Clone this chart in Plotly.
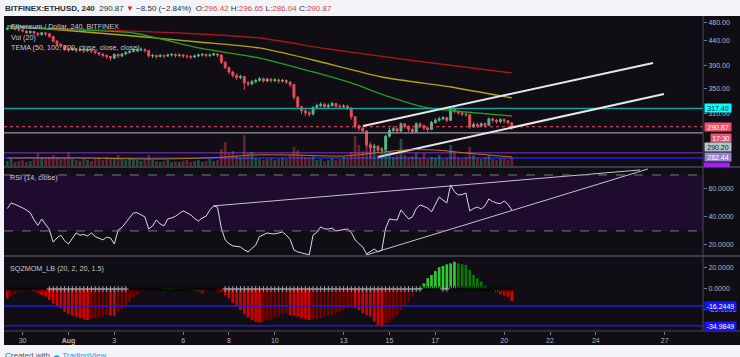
import numpy as np
import pandas as pd
import plotly.graph_objects as go

# ---------------- data ----------------
bar_start = "2018-07-29 08:00"
bar_count = 133
first_open = 463.0

close = [466, 468, 464, 462,
         460, 456, 459, 455, 452, 456,
         454, 448, 438, 432, 428, 422,
         420, 423, 419, 421, 418, 420,
         418, 415, 412, 409, 407, 404,
         411, 408, 412, 415, 417, 419,
         420, 421, 419, 408, 409, 407,
         409, 408, 410, 411, 409, 410,
         408, 407, 406, 408, 410, 411,
         409, 410, 412, 410, 396, 386,
         378, 372, 368, 370, 359, 357,
         361, 363, 366, 362, 365, 363,
         364, 362, 363, 360, 356, 335,
         320, 314, 311, 309, 319, 322,
         324, 320, 322, 325, 321, 320,
         321, 318, 305, 292, 289, 285,
         267, 263, 265, 260, 261, 278,
         286, 288, 285, 295, 291, 287,
         284, 295, 292, 289, 287, 297,
         300, 302, 304, 300, 318, 313,
         311, 309, 308, 291, 294, 292,
         295, 293, 302, 300, 298, 301,
         299.37, 296.42, 290.87]

high = [470, 471, 469, 466,
        464, 461, 461, 460, 457, 458,
        458, 455, 449, 440, 434, 430,
        425, 426, 424, 424, 422, 423,
        422, 419, 416, 413, 411, 408,
        413, 413, 414, 418, 420, 422,
        424, 425, 423, 420, 412, 411,
        412, 411, 413, 414, 413, 413,
        412, 411, 410, 411, 413, 414,
        413, 413, 415, 414, 411, 398,
        388, 380, 375, 373, 371, 362,
        364, 366, 369, 368, 368, 367,
        367, 366, 366, 365, 362, 357,
        337, 322, 316, 314, 321, 325,
        327, 326, 325, 328, 326, 324,
        324, 323, 319, 306, 294, 291,
        286, 270, 268, 266, 264, 280,
        289, 291, 290, 297, 296, 293,
        289, 297, 297, 294, 291, 299,
        303, 305, 306, 305, 321, 320,
        315, 313, 311, 309, 297, 296,
        297, 297, 304, 304, 302, 303,
        303, 300, 296.65]

low = [462, 464, 461, 459,
       457, 453, 454, 452, 448, 450,
       449, 445, 435, 428, 424, 418,
       416, 418, 415, 417, 414, 416,
       414, 411, 408, 405, 402, 399,
       402, 404, 406, 410, 413, 415,
       416, 417, 415, 405, 404, 403,
       405, 404, 406, 407, 405, 406,
       404, 403, 402, 404, 406, 407,
       405, 406, 408, 406, 393, 383,
       374, 368, 364, 365, 347, 353,
       355, 358, 361, 359, 360, 359,
       360, 358, 359, 357, 352, 331,
       317, 309, 306, 305, 307, 317,
       319, 317, 318, 320, 318, 316,
       317, 315, 301, 288, 285, 282,
       264, 252, 258, 256, 257, 259,
       276, 283, 282, 284, 288, 284,
       281, 283, 289, 286, 284, 286,
       295, 298, 300, 297, 299, 310,
       308, 306, 305, 288, 289, 289,
       290, 290, 292, 297, 295, 296,
       296, 294, 286.04]

volume_k = [12, 16, 10, 12, 14, 10, 12, 16,
            28,
            18, 16, 20, 24, 18, 16, 20,
            30,
            16, 14, 12, 18, 14, 12, 16, 18, 14, 20, 16, 18,
            24,
            16, 14, 18, 16, 14, 12, 16, 24,
            14, 12, 10, 12, 14, 10, 12, 10, 12, 14, 10, 12, 14, 10, 12, 16, 12, 14,
            36, 50, 28, 32, 24, 20, 64, 28, 30,
            18, 16, 14, 16, 18, 14, 16, 18, 16,
            24, 40, 34, 24, 20, 18, 22,
            14, 16, 12, 14, 18, 14, 16, 20, 18,
            30, 62, 44, 32, 60, 40, 36, 24, 28, 38,
            32, 20, 24, 56, 24, 20, 22, 28, 18, 28,
            16, 20, 18, 24, 16, 18, 44, 28, 18, 16,
            20, 40, 24, 18, 16, 20, 24, 16, 14, 16,
            18, 14, 20]

vol_ma_idx = [0, 20, 40, 57, 64, 75, 88, 96, 104, 112, 120, 132]
vol_ma_k = [18, 18, 16, 20, 24, 24, 22, 28, 34, 34, 28, 20]

tema200_idx = [0, 24, 45, 66, 84, 105, 132]
tema200 = [468.8, 462.1, 455.5, 444.7, 421.9, 400.3, 376.2]
tema100_idx = [0, 11, 33, 50, 66, 80, 98, 116, 132]
tema100 = [471.0, 464.3, 449.0, 436.3, 424.0, 400.3, 369.0, 351.8, 333.8]
tema50_idx = [0, 11, 33, 50, 66, 81, 90, 100, 110, 120, 132]
tema50 = [471.0, 464.3, 455.5, 424.0, 404.1, 376.2, 358.6, 335.4, 318.2, 312.1, 306.2]

rsi = [46, 50, 49, 48,
       46.5, 45, 43, 38, 34, 38.5,
       35, 31, 22, 25, 27, 23,
       20.7, 25, 28.6, 27, 27.5, 26.4,
       28.6, 26, 24.5, 23.6, 25.5, 25,
       20.7, 30.7, 32.5, 35.7, 39, 42.9,
       43, 41.4, 40, 31.4, 33.5, 37.9,
       35, 33.6, 38.6, 39.3, 40.5, 42.5,
       44.3, 43, 41.4, 39, 37.1, 39.3,
       40.5, 45, 47.9, 47, 32, 23.6,
       21, 19.3, 19, 18.6, 16.5, 15,
       17.5, 20, 26, 27.5, 28.6, 28,
       27.9, 28.5, 29.3, 27, 24, 16.4,
       15, 14.3, 13.5, 12.9, 27, 29,
       32.9, 31.5, 31.4, 32, 30, 30.5,
       31, 31.4, 29, 23.6, 21, 18.6,
       13.5, 15, 17.1, 15, 16.4, 32,
       38.6, 38, 37.9, 45, 42, 38.6,
       40, 46, 48.6, 47.5, 46.4, 43.6,
       49, 54.3, 52, 50, 62.9, 58,
       55.7, 56, 57.1, 44.3, 46, 47.1,
       45.7, 48, 52.9, 51, 50, 49.5,
       51.4, 49, 45]

sqz = [-8.9, -6.3, -5.0, -3.2,
       -2.4, -1.9, -1.8, -2.5, -4.1, -5.7,
       -7.3, -10.5, -13.7, -16.8, -18.4, -21.6,
       -24.1, -25.4, -26.5, -27.6, -28.6, -29.5,
       -28.2, -27.9, -27.3, -26.3, -24.8, -25.4,
       -25.9, -21.6, -19.0, -15.2, -12.1, -8.3,
       -5.0, -2.5, -1.5, -1.0, -0.6, -0.3,
       -0.2, 0.2, 0.4, 0.6, 0.6, 0.5,
       0.4, 0.2, -0.5, -1.9, -2.5, -4.1,
       -2.5, -1.0, -0.5, -1.5, -3.0, -5.7,
       -8.9, -13.6, -16.8, -20.0, -24.1, -27.3,
       -29.5, -31.1, -32.0, -30.5, -29.5, -28.6,
       -27.3, -26.3, -24.1, -23.2, -24.8, -25.5,
       -26.3, -27.9, -28.5, -29.5, -29.3, -28.6,
       -27.9, -26.3, -25.4, -24.8, -23.2, -21.6,
       -20.0, -18.4, -17.8, -18.5, -20.0, -23.2,
       -24.8, -26.3, -31.1, -34.3, -35.9, -32.7,
       -31.1, -27.9, -24.8, -20.0, -15.2, -12.1,
       -7.3, -2.5, 0.8, 5.4, 10.2, 13.3,
       17.1, 20.7, 21.9, 23.5, 24.4, 26.0,
       24.4, 23.5, 22.9, 18.1, 13.3, 10.2,
       7.0, 3.2, 0.8, -0.5, -3.2, -5.0,
       -6.3, -7.3, -11.5]

# squeeze state per bar: 1 = squeeze off (grey cross), 0 = squeeze on (black cross)
sqz_state = ("00000000000"
             "111111111111111111111"
             "0000000000000000000000000"
             "1111111111111111111111111111111111111111111111111111"
             "00000"
             "11"
             "00000000000000000")

# drawings
channel_upper_t = ["2018-08-13 20:17", "2018-08-26 11:50"]
channel_upper_p = [291.9, 394.6]
channel_lower_t = ["2018-08-14 12:00", "2018-08-26 23:18"]
channel_lower_p = [251.6, 340.2]
rsi_upper_t = ["2018-08-07 08:00", "2018-08-25 22:19"]
rsi_upper_v = [47.9, 73.6]
rsi_lower_t = ["2018-08-13 17:00", "2018-08-26 06:30"]
rsi_lower_v = [11.4, 74.3]

level_cyan = 317.40
last_price = 290.87
level_grey = 282.44
level_purple = 256.9
level_blue = 250.4
sqz_level_1 = -16.2449
sqz_level_2 = -34.9849

x_range = ["2018-07-29 04:32", "2018-08-28 16:08"]
xtick_vals = ["2018-07-30", "2018-08-01", "2018-08-03", "2018-08-06", "2018-08-08",
              "2018-08-10", "2018-08-13", "2018-08-15", "2018-08-17", "2018-08-20",
              "2018-08-22", "2018-08-24", "2018-08-27"]
xtick_text = ["30", "<b>Aug</b>", "3", "6", "8", "10", "13", "15", "17", "20", "22", "24", "27"]
price_ticks = [310, 350, 390, 440, 480]
rsi_ticks = [20, 40, 60]
sqz_ticks = [-20, 0, 20]

# ---------------- layout helpers ----------------
W, H = 740, 357
ML, MR, MT, MB = 4, 37, 16, 26
PW, PH = W - ML - MR, H - MT - MB
FONT = "Liberation Sans, Arial, sans-serif"
BG = "#100d14"
AX_TXT = "#b4b7c0"
UP, DOWN = "#53b987", "#eb4d5c"


def px_x(px):
    return (px - ML) / PW


def px_y(py):
    return (H - MB - py) / PH


times = pd.date_range(bar_start, periods=bar_count, freq="4h")
opens = [first_open] + close[:-1]
tsel = lambda idx: [times[i] for i in idx]

fig = go.Figure()

# candles
fig.add_trace(go.Candlestick(
    x=times, open=opens, high=high, low=low, close=close,
    increasing=dict(line=dict(color=UP, width=1), fillcolor=UP),
    decreasing=dict(line=dict(color=DOWN, width=1), fillcolor=DOWN),
    whiskerwidth=0, xaxis="x", yaxis="y", hoverinfo="skip"))

# TEMA lines
for idx, vals, col in [(tema200_idx, tema200, "#a81616"),
                       (tema100_idx, tema100, "#b3a414"),
                       (tema50_idx, tema50, "#22a022")]:
    fig.add_trace(go.Scatter(x=tsel(idx), y=vals, mode="lines",
                             line=dict(color=col, width=1.3, shape="spline", smoothing=0.6),
                             xaxis="x", yaxis="y", hoverinfo="skip"))

# horizontal levels in price pane
for lvl, col, dash, w in [(level_cyan, "#13a3a3", "solid", 1.6),
                          (last_price, "#f0506e", "dot", 1),
                          (level_grey, "#9a94b0", "solid", 1.2),
                          (level_purple, "#5e2490", "solid", 1.6),
                          (level_blue, "#2323e8", "solid", 1.6)]:
    fig.add_trace(go.Scatter(x=x_range, y=[lvl, lvl], mode="lines",
                             line=dict(color=col, width=w, dash=dash),
                             xaxis="x", yaxis="y", hoverinfo="skip"))

# channel lines
for tt, pp in [(channel_upper_t, channel_upper_p), (channel_lower_t, channel_lower_p)]:
    fig.add_trace(go.Scatter(x=tt, y=pp, mode="lines", line=dict(color="#e6e6ea", width=2),
                             xaxis="x", yaxis="y", hoverinfo="skip"))

# volume overlay
vol_colors = ["rgba(83,185,135,0.38)" if c >= o else "rgba(235,77,92,0.38)"
              for o, c in zip(opens, close)]
fig.add_trace(go.Bar(x=times, y=volume_k, marker=dict(color=vol_colors, line=dict(width=0)),
                     xaxis="x", yaxis="y2", hoverinfo="skip"))
fig.add_trace(go.Scatter(x=tsel(vol_ma_idx), y=vol_ma_k, mode="lines",
                         line=dict(color="#b8732e", width=1, shape="spline"),
                         xaxis="x", yaxis="y2", hoverinfo="skip"))

# RSI
fig.add_trace(go.Scatter(x=times, y=rsi, mode="lines", line=dict(color="#dcdce4", width=1),
                         xaxis="x", yaxis="y3", hoverinfo="skip"))
for tt, vv in [(rsi_upper_t, rsi_upper_v), (rsi_lower_t, rsi_lower_v)]:
    fig.add_trace(go.Scatter(x=tt, y=vv, mode="lines", line=dict(color="#c4c4cc", width=1),
                             xaxis="x", yaxis="y3", hoverinfo="skip"))

# Squeeze momentum histogram
sq_colors = []
for i, v in enumerate(sqz):
    prev = sqz[i - 1] if i > 0 else 0
    if v > 0:
        sq_colors.append("#2ccc2c" if v > prev else "#0c780c")
    else:
        sq_colors.append("#d40000" if v < prev else "#740000")
fig.add_trace(go.Bar(x=times, y=sqz, marker=dict(color=sq_colors, line=dict(width=0)),
                     xaxis="x", yaxis="y4", hoverinfo="skip"))
grey_t = [t for t, s in zip(times, sqz_state) if s == "1"]
black_t = [t for t, s in zip(times, sqz_state) if s == "0"]
fig.add_trace(go.Scatter(x=black_t, y=[0] * len(black_t), mode="markers",
                         marker=dict(symbol="cross-thin", size=4, line=dict(color="#000000", width=1)),
                         xaxis="x", yaxis="y4", hoverinfo="skip"))
fig.add_trace(go.Scatter(x=grey_t, y=[0] * len(grey_t), mode="markers",
                         marker=dict(symbol="cross-thin", size=4, line=dict(color="#a8a8b0", width=1)),
                         xaxis="x", yaxis="y4", hoverinfo="skip"))

# ---------------- shapes ----------------
shapes = [
    dict(type="rect", xref="paper", yref="paper", x0=0, x1=px_x(W), y0=px_y(345), y1=1,
         fillcolor=BG, line=dict(width=0), layer="below"),
    dict(type="rect", xref="paper", yref="y3", x0=0, x1=1, y0=30, y1=70,
         fillcolor="#1e0b2d", line=dict(width=0), layer="below"),
    dict(type="line", xref="paper", yref="y3", x0=0, x1=1, y0=70, y1=70,
         line=dict(color="#7c7a88", width=1, dash="dash")),
    dict(type="line", xref="paper", yref="y3", x0=0, x1=1, y0=30, y1=30,
         line=dict(color="#7c7a88", width=1, dash="dash")),
    dict(type="line", xref="paper", yref="y4", x0=0, x1=1, y0=sqz_level_1, y1=sqz_level_1,
         line=dict(color="#1c1cd8", width=1.5)),
    dict(type="line", xref="paper", yref="y4", x0=0, x1=1, y0=sqz_level_2, y1=sqz_level_2,
         line=dict(color="#1c1cd8", width=1.5)),
    # pane separators and frame
    dict(type="line", xref="paper", yref="paper", x0=0, x1=px_x(W), y0=px_y(167), y1=px_y(167),
         line=dict(color="#3a3a44", width=2)),
    dict(type="line", xref="paper", yref="paper", x0=0, x1=px_x(W), y0=px_y(256), y1=px_y(256),
         line=dict(color="#3a3a44", width=2)),
    dict(type="line", xref="paper", yref="paper", x0=0, x1=px_x(W), y0=0, y1=0,
         line=dict(color="#4a4a54", width=1)),
    dict(type="line", xref="paper", yref="paper", x0=1, x1=1, y0=0, y1=1,
         line=dict(color="#4a4a54", width=1)),
    dict(type="rect", xref="paper", yref="paper", x0=px_x(704), x1=px_x(730),
         y0=px_y(167), y1=px_y(162.5), fillcolor="#a020f0", line=dict(width=0)),
]


def side_label(text, val, yref, bg, fg, shift=0, x_px=704, w=26, log=False):
    return dict(xref="paper", x=px_x(x_px), xanchor="left", yref=yref,
                y=np.log10(val) if log else val, yanchor="middle", yshift=shift,
                text=text, showarrow=False, font=dict(size=7, color=fg, family=FONT),
                bgcolor=bg, borderpad=0, width=w, height=8, align="center")


annotations = [
    dict(xref="paper", yref="paper", x=px_x(3), y=px_y(8), xanchor="left", yanchor="middle",
         showarrow=False, font=dict(size=8, color="#2a2e39", family=FONT),
         text=("<b>BITFINEX:ETHUSD, 240</b>  290.87 <span style='color:#d32f2f'>▼</span> "
               "−8.50 (−2.84%)  O:<span style='color:#e0404f'>296.42</span> "
               "H:<span style='color:#e0404f'>296.65</span> L:<span style='color:#e0404f'>286.04</span> "
               "C:<span style='color:#e0404f'>290.87</span>")),
    dict(xref="paper", yref="paper", x=px_x(9), y=px_y(26), xanchor="left", yanchor="middle",
         showarrow=False, text="Ethereum / Dollar, 240, BITFINEX",
         font=dict(size=7.2, color="#c8c9d0", family=FONT)),
    dict(xref="paper", yref="paper", x=px_x(9), y=px_y(37), xanchor="left", yanchor="middle",
         showarrow=False, text="Vol (20)", font=dict(size=7.2, color="#c8c9d0", family=FONT)),
    dict(xref="paper", yref="paper", x=px_x(9), y=px_y(47.5), xanchor="left", yanchor="middle",
         showarrow=False, text="TEMA (50, 100, 200, close, close, close)",
         font=dict(size=7.2, color="#c8c9d0", family=FONT)),
    dict(xref="paper", yref="paper", x=px_x(8), y=px_y(177), xanchor="left", yanchor="middle",
         showarrow=False, text="RSI (14, close)", font=dict(size=7.2, color="#c8c9d0", family=FONT)),
    dict(xref="paper", yref="paper", x=px_x(8), y=px_y(268), xanchor="left", yanchor="middle",
         showarrow=False, text="SQZMOM_LB (20, 2, 20, 1.5)",
         font=dict(size=7.2, color="#c8c9d0", family=FONT)),
    dict(xref="paper", yref="paper", x=px_x(3), y=px_y(355.5), xanchor="left", yanchor="middle",
         showarrow=False,
         text="Created with <span style='color:#2196f3'>☁ TradingView</span>",
         font=dict(size=8, color="#50535e", family=FONT)),
    side_label("317.40", level_cyan, "y", "#00ffff", "#131722", log=True),
    side_label("290.87", last_price, "y", "#f0506e", "#ffffff", log=True),
    side_label("17:30", last_price, "y", "#f0506e", "#ffffff", shift=-11, x_px=710, w=20, log=True),
    side_label("290.20", 290.20, "y", "#b0c6c4", "#131722", shift=-19.5, log=True),
    side_label("282.44", level_grey, "y", "#9482d2", "#ffffff", shift=-24, log=True),
    side_label("-16.2449", sqz_level_1, "y4", "#1414ff", "#ffffff", w=31),
    side_label("-34.9849", sqz_level_2, "y4", "#1414ff", "#ffffff", w=31),
]

tickfont = dict(size=7, color=AX_TXT, family=FONT)
yax_common = dict(side="right", anchor="x", showgrid=False, zeroline=False, ticks="outside",
                  ticklen=3, tickcolor="#787b86", tickfont=tickfont, showline=False,
                  fixedrange=True)

fig.update_layout(
    width=W, height=H, margin=dict(l=ML, r=MR, t=MT, b=MB),
    paper_bgcolor="#f3f4f7", plot_bgcolor=BG, showlegend=False,
    bargap=0.3, hovermode=False,
    xaxis=dict(type="date", range=x_range, domain=[0, 1], anchor="y4",
               rangeslider=dict(visible=False), showgrid=False, zeroline=False,
               tickvals=xtick_vals, ticktext=xtick_text, ticks="outside", ticklen=3,
               tickcolor="#787b86", tickfont=tickfont, showline=False),
    yaxis=dict(type="log", domain=[px_y(167), 1],
               range=[np.log10(239.9), np.log10(494.1)],
               tickvals=price_ticks, ticktext=[f"{v:.2f}" for v in price_ticks], **yax_common),
    yaxis2=dict(overlaying="y", side="right", range=[0, 302], visible=False, fixedrange=True),
    yaxis3=dict(domain=[px_y(256), px_y(167)], range=[12.1, 75.7],
                tickvals=rsi_ticks, ticktext=[f"{v:.4f}" for v in rsi_ticks], **yax_common),
    yaxis4=dict(domain=[0, px_y(256)], range=[-40.0, 31.4],
                tickvals=sqz_ticks, ticktext=[f"{v:.4f}" for v in sqz_ticks], **yax_common),
    shapes=shapes, annotations=annotations,
)

fig.write_html("out.html", config={"displayModeBar": False},
               post_script="document.body.style.margin='0';document.body.style.padding='0';")
